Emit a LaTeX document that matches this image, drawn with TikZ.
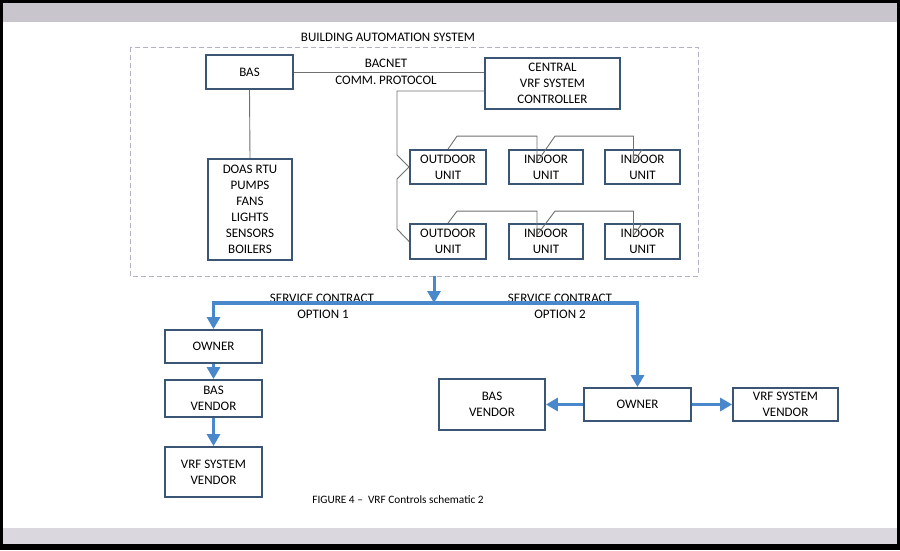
\documentclass[tikz,border=0pt]{standalone}
\usepackage{fontspec}
\setmainfont{Carlito}
\usetikzlibrary{arrows.meta}
\definecolor{boxline}{RGB}{58,86,116}
\definecolor{conn}{RGB}{112,112,112}
\definecolor{bluearr}{RGB}{74,136,204}
\definecolor{dashc}{RGB}{180,178,196}
\definecolor{bandtop}{RGB}{200,197,204}
\definecolor{bandbot}{RGB}{218,215,222}
\tikzset{
  blk/.style={draw=boxline, line width=1.8pt, fill=white, inner sep=0pt, align=center,
    font=\fontsize{13}{16}\selectfont},
  thin/.style={draw=conn, line width=0.9pt},
  barrow/.style={draw=bluearr, line width=3.6pt, -{Triangle[length=12pt,width=13pt]}},
  lbl/.style={font=\fontsize{13}{16}\selectfont, inner sep=0pt, align=center},
}
\newcommand{\bx}[7]{% name, x1, x2, y1, y2, text
  \node[blk, minimum width={#3-#2}, minimum height={#5-#4}] (#1) at ({(#2+#3)/2},{(#4+#5)/2}) {#6};}
\begin{document}
\begin{tikzpicture}[x=1pt,y=-1pt]
\useasboundingbox (0,0) rectangle (900,550);
% frame
\fill[black] (0,0) rectangle (900,550);
\fill[bandtop] (3,3) rectangle (897,22);
\fill[white] (3,22) rectangle (897,528);
\fill[bandbot] (3,528) rectangle (897,544);
% title and dashed system boundary
\node[lbl] (title) at (388,37) {BUILDING AUTOMATION SYSTEM};
\draw[dashc, line width=1pt, dash pattern=on 5pt off 3pt] (130,47) rectangle (698,276);
% boxes
\bx{bas}{206}{293}{55}{89}{BAS}{}
\bx{central}{485}{620}{58}{109}{CENTRAL\\VRF SYSTEM\\CONTROLLER}{}
\bx{doas}{208}{292}{159}{260}{DOAS RTU\\PUMPS\\FANS\\LIGHTS\\SENSORS\\BOILERS}{}
\bx{outa}{410}{486}{150}{184}{OUTDOOR\\UNIT}{}
\bx{ina}{509}{583}{150}{184}{INDOOR\\UNIT}{}
\bx{inb}{605}{680}{150}{184}{INDOOR\\UNIT}{}
\bx{outc}{410}{486}{224}{259}{OUTDOOR\\UNIT}{}
\bx{inc}{509}{583}{224}{259}{INDOOR\\UNIT}{}
\bx{ind}{605}{680}{224}{259}{INDOOR\\UNIT}{}
\bx{own1}{165}{262}{330}{363}{OWNER}{}
\bx{basv1}{165}{262}{380}{417}{BAS\\VENDOR}{}
\bx{vrfv1}{165}{262}{447}{497}{VRF SYSTEM\\VENDOR}{}
\bx{basv2}{439}{545}{379}{430}{BAS\\VENDOR}{}
\bx{own2}{584}{691}{388}{421}{OWNER}{}
\bx{vrfv2}{733}{838}{388}{421}{VRF SYSTEM\\VENDOR}{}
% labels
\node[lbl] (bacnet) at (386,63) {BACNET};
\node[lbl] (comm) at (386,80) {COMM. PROTOCOL};
\node[lbl] (sc1) at (322,298) {SERVICE CONTRACT};
\node[lbl] (op1) at (323,314) {OPTION 1};
\node[lbl] (sc2) at (560,298) {SERVICE CONTRACT};
\node[lbl] (op2) at (560,314) {OPTION 2};
\node[inner sep=0pt, font=\fontsize{11.3}{12}\selectfont] (cap) at (398,500) {FIGURE 4 –\ \ VRF Controls schematic 2};
% thin connectors
\draw[thin] (bas.east |- 0,72) -- (central.west |- 0,72);
\draw[thin] (bas.south) -- (doas.north);
\coordinate (c1) at (397,91);
\draw[thin, line join=round] (central.west |- c1) -- (c1) -- (397,155) -- (outa.west) -- (397,179) -- (397,229) -- (outc.west);
\draw[thin, line join=round] (outa.north) -- ++(9,-13) -| ([xshift=-9pt,yshift=-13pt]ina.north) -- (ina.north)
  -- ++(9,-13) -| ([xshift=-9pt,yshift=-13pt]inb.north) -- (inb.north);
\draw[thin, line join=round] (outc.north) -- ++(9,-12) -| ([xshift=-9pt,yshift=-12pt]inc.north) -- (inc.north)
  -- ++(9,-12) -| ([xshift=-9pt,yshift=-12pt]ind.north) -- (ind.north);
% blue service arrows
\coordinate (src) at (434,276);
\coordinate (j) at (434,303);
\draw[barrow, line width=3pt] (src) -- (j);
\draw[barrow, line join=miter] (j) -| (own1.north);
\draw[barrow, line join=miter] (j) -| (own2.north);
\draw[barrow] (own1.south) -- (basv1.north);
\draw[barrow] (basv1.south) -- (vrfv1.north);
\draw[barrow] (own2.west) -- (basv2.east);
\draw[barrow] (own2.east) -- (vrfv2.west);
\end{tikzpicture}
\end{document}
